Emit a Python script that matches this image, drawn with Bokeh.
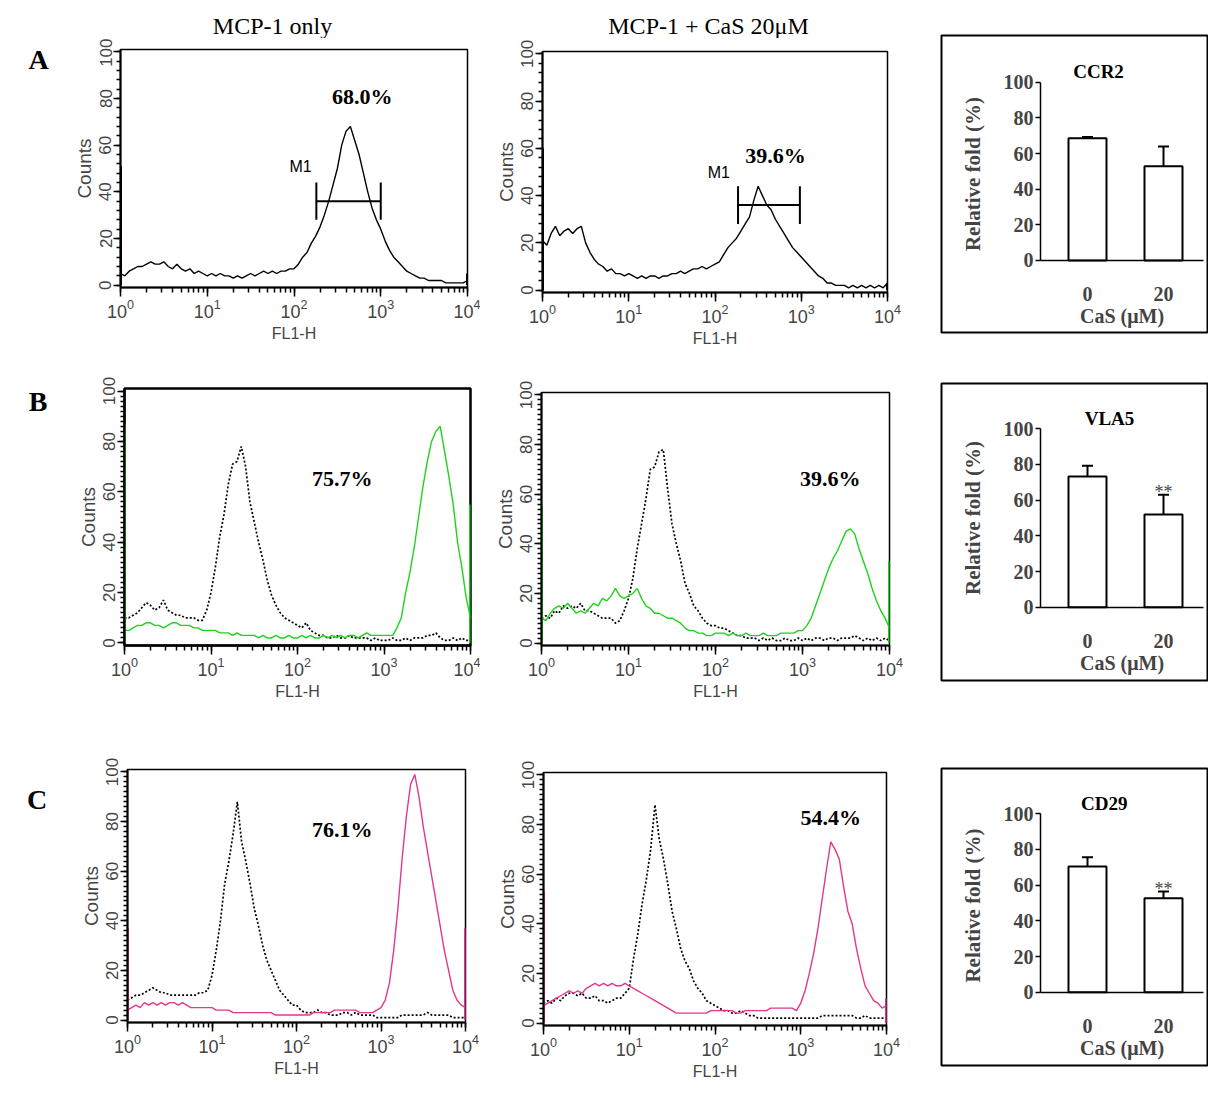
from bokeh.plotting import figure
from bokeh.layouts import row, column
from bokeh.models import (Range1d, Label, FixedTicker, SingleIntervalTicker,
                          ColumnDataSource, Whisker, TeeHead)
from bokeh.embed import file_html
from bokeh.resources import INLINE

# ---------------- data ----------------
# FL1-H channel positions (log10), shared by all histograms
log_fl1 = [round(0.05 * i, 2) for i in range(81)]
fl1 = [10 ** v for v in log_fl1]

# Panel A (CCR2) – single histograms
a1_counts = [5, 4, 6, 7, 8, 8, 9, 10, 9, 9, 10, 8, 7, 9, 7, 6, 7, 5, 6, 5,
             4, 5, 4, 5, 4, 4, 3, 4, 3, 4, 5, 4, 5, 6, 5, 6, 5, 6, 6, 7,
             7, 9, 12, 14, 18, 21, 25, 30, 36, 43, 50, 60, 66, 68, 62, 56, 48, 40, 33, 28,
             24, 19, 15, 12, 10, 8, 6, 5, 4, 3, 3, 2, 2, 2, 2, 1, 1, 1, 1, 1, 2]
a2_counts = [21, 19, 24, 27, 23, 25, 26, 24, 26, 27, 20, 16, 13, 11, 10, 8, 9, 7, 7, 6,
             7, 6, 5, 6, 5, 6, 6, 5, 6, 6, 7, 7, 8, 7, 8, 9, 9, 10, 9, 10,
             11, 12, 15, 18, 20, 22, 25, 28, 31, 38, 44, 40, 36, 34, 30, 27, 24, 21, 18, 16,
             14, 12, 10, 8, 6, 5, 3, 3, 2, 2, 2, 1, 2, 1, 2, 1, 2, 1, 2, 1, 3]

# Panel B (VLA5) – isotype (dotted) and stained (green)
b1_iso = [10, 10, 11, 12, 14, 16, 15, 13, 14, 17, 13, 12, 11, 11, 10, 10, 10, 9, 9, 13,
          20, 30, 42, 51, 63, 71, 72, 78, 70, 56, 48, 40, 33, 25, 19, 15, 12, 10, 9, 8,
          7, 6, 8, 5, 4, 3, 3, 2, 2, 3, 2, 2, 3, 2, 2, 2, 2, 1, 2, 1,
          1, 1, 2, 1, 1, 2, 1, 2, 2, 2, 3, 3, 4, 2, 1, 1, 2, 1, 2, 1, 1]
b1_vla5 = [5, 5, 6, 7, 7, 8, 8, 7, 7, 6, 7, 8, 8, 7, 7, 7, 6, 6, 5, 5,
           5, 5, 4, 4, 4, 3, 4, 3, 3, 3, 3, 2, 3, 2, 2, 3, 2, 2, 3, 2,
           2, 3, 2, 3, 2, 2, 3, 2, 3, 2, 3, 2, 3, 3, 2, 3, 4, 3, 3, 3,
           3, 3, 3, 6, 10, 20, 28, 38, 50, 62, 72, 80, 84, 86, 76, 66, 55, 40, 30, 18, 10]
b2_iso = [10, 11, 10, 13, 12, 15, 14, 15, 14, 16, 13, 13, 12, 11, 10, 10, 10, 8, 9, 13,
          18, 26, 38, 48, 58, 70, 71, 77, 78, 62, 48, 40, 33, 24, 20, 15, 13, 10, 8, 7,
          7, 6, 6, 5, 4, 3, 3, 2, 2, 2, 1, 2, 1, 2, 1, 1, 2, 1, 1, 2,
          1, 2, 1, 2, 2, 1, 2, 2, 1, 2, 2, 2, 3, 2, 1, 2, 1, 2, 1, 2, 1]
b2_vla5 = [10, 9, 12, 14, 15, 14, 16, 14, 12, 13, 12, 14, 16, 15, 18, 17, 19, 22, 19, 18,
           19, 20, 22, 18, 15, 14, 12, 12, 11, 10, 10, 9, 8, 6, 5, 5, 4, 4, 3, 3,
           4, 4, 4, 3, 4, 3, 3, 4, 3, 3, 3, 4, 3, 3, 3, 4, 4, 4, 4, 5,
           5, 7, 10, 15, 20, 25, 30, 34, 37, 41, 45, 46, 44, 38, 33, 28, 22, 17, 13, 10, 6]

# Panel C (CD29) – isotype (dotted) and stained (pink)
c1_iso = [8, 9, 10, 10, 11, 12, 13, 12, 11, 11, 10, 10, 10, 10, 10, 10, 10, 11, 11, 12,
          18, 28, 40, 55, 64, 75, 88, 72, 64, 55, 45, 38, 30, 24, 20, 16, 12, 10, 8, 6,
          6, 4, 3, 3, 3, 4, 3, 3, 2, 2, 2, 3, 3, 2, 3, 2, 2, 2, 2, 1,
          1, 1, 1, 1, 1, 2, 2, 2, 2, 2, 2, 3, 2, 2, 2, 2, 2, 1, 1, 1, 1]
c1_cd29 = [4, 5, 6, 5, 7, 6, 7, 6, 7, 6, 7, 7, 6, 7, 6, 5, 5, 5, 5, 5,
           5, 4, 4, 4, 4, 3, 3, 3, 3, 3, 3, 3, 3, 3, 3, 2, 2, 2, 2, 2,
           2, 2, 2, 2, 3, 3, 3, 3, 3, 4, 4, 4, 4, 4, 4, 3, 3, 3, 3, 4,
           5, 8, 15, 28, 45, 65, 82, 95, 99, 90, 78, 68, 58, 48, 38, 28, 20, 12, 8, 6, 5]
c2_iso = [8, 9, 8, 10, 9, 11, 12, 12, 11, 12, 10, 10, 11, 9, 9, 8, 9, 10, 10, 12,
          14, 26, 36, 48, 58, 70, 88, 74, 66, 56, 45, 38, 30, 25, 22, 17, 14, 12, 9, 8,
          7, 6, 5, 5, 4, 4, 5, 4, 3, 3, 2, 2, 2, 2, 2, 2, 2, 2, 2, 2,
          2, 2, 2, 2, 2, 3, 3, 3, 3, 3, 3, 3, 3, 2, 2, 3, 2, 2, 2, 2, 2]
c2_cd29 = [7, 8, 9, 10, 11, 12, 13, 12, 13, 12, 14, 15, 16, 15, 16, 15, 16, 15, 15, 16,
           15, 14, 13, 12, 11, 10, 9, 8, 7, 6, 5, 4, 4, 4, 4, 4, 4, 4, 4, 5,
           5, 5, 5, 5, 5, 4, 4, 5, 5, 5, 5, 5, 5, 6, 6, 6, 6, 6, 6, 5,
           8, 13, 20, 28, 38, 50, 62, 73, 70, 66, 55, 45, 40, 30, 22, 15, 12, 9, 8, 6, 7]

# first / last channel pile-up counts (left edge, right edge)
a1_edges = [51, 5]
a2_edges = [60, 3]
b1_edges = [87, 55]
b2_edges = [55, 33]
c1_edges = [37, 37]
c2_edges = [53, 10]

# M1 gates (FL1-H range) and gate height
a1_gate = [181, 1000]
a2_gate = [185, 964]
gate_level = 36

# percentages of positive cells
pct_labels = ["68.0%", "39.6%", "75.7%", "39.6%", "76.1%", "54.4%"]

column_titles = ["MCP-1 only", "MCP-1 + CaS 20\u03bcM"]
row_letters = ["A", "B", "C"]

# bar charts: relative fold (%) for CaS 0 and 20 uM
cas_doses = ["0", "20"]
ccr2_mean = [68.6, 52.9]
ccr2_err = [0.7, 11.0]
vla5_mean = [73.3, 52.0]
vla5_err = [6.0, 11.0]
cd29_mean = [70.5, 52.7]
cd29_err = [5.2, 3.7]
vla5_sig = ["", "**"]
cd29_sig = ["", "**"]

GREEN = "#1ed21e"
PINK = "#e2378e"
SANS = "Liberation Sans"
SERIF = "Liberation Serif"


def blank(w, h):
    p = figure(width=w, height=h, x_range=Range1d(0, w), y_range=Range1d(0, h),
               output_backend="svg", toolbar_location=None,
               x_axis_location=None, y_axis_location=None,
               min_border=0, min_border_left=0, min_border_right=0,
               min_border_top=0, min_border_bottom=0)
    p.xgrid.visible = False
    p.ygrid.visible = False
    p.outline_line_color = None
    return p


def make_hist(w, h, left, right, top, bottom, curves, edges, edge_color,
              outline_w=1.5, minor=10):
    p = figure(width=w, height=h, x_axis_type="log",
               x_range=Range1d(1, 1e4), y_range=Range1d(-1, 101),
               output_backend="svg", toolbar_location=None,
               min_border_left=left, min_border_right=right,
               min_border_top=top, min_border_bottom=bottom)
    p.xgrid.visible = False
    p.ygrid.visible = False
    p.outline_line_color = "black"
    p.outline_line_width = outline_w

    xa = p.xaxis[0]
    xa.axis_label = "FL1-H"
    xa.axis_label_text_font = SANS
    xa.axis_label_text_font_size = "16px"
    xa.axis_label_text_font_style = "normal"
    xa.axis_label_standoff = 4
    xa.major_label_text_font = SANS
    xa.major_label_text_font_size = "18px"
    xa.major_label_standoff = 2
    xa.axis_line_width = 2
    xa.major_tick_in = 0
    xa.major_tick_out = 9
    xa.minor_tick_in = 0
    xa.minor_tick_out = 5
    xa.major_tick_line_width = 1.5
    xa.minor_tick_line_width = 1.5

    ya = p.yaxis[0]
    ya.ticker = SingleIntervalTicker(interval=20, num_minor_ticks=minor)
    ya.axis_label = "Counts"
    ya.axis_label_text_font = SANS
    ya.axis_label_text_font_size = "19px"
    ya.axis_label_text_font_style = "normal"
    ya.axis_label_standoff = 2
    ya.major_label_text_font = SANS
    ya.major_label_text_font_size = "17px"
    ya.major_label_orientation = "vertical"
    ya.major_label_standoff = 2
    ya.axis_line_width = 2
    ya.major_tick_in = 0
    ya.major_tick_out = 7
    ya.minor_tick_in = 0
    ya.minor_tick_out = 4
    ya.major_tick_line_width = 1.5
    ya.minor_tick_line_width = 1.5

    for vals, color, dash, lw in curves:
        p.line(fl1, vals, line_color=color, line_width=lw, line_dash=dash)
    p.segment(x0=[1, 1e4], y0=[0, 0], x1=[1, 1e4], y1=edges,
              line_color=edge_color, line_width=3)
    return p


def add_label(p, x, y, text, font, size, style="normal", color="black",
              align="center", baseline="middle"):
    p.add_layout(Label(x=x, y=y, text=text, text_font=font,
                       text_font_size=size, text_font_style=style,
                       text_color=color, text_align=align,
                       text_baseline=baseline))


def add_gate(p, gate):
    p.segment(x0=[gate[0]], y0=[gate_level], x1=[gate[1]], y1=[gate_level],
              line_color="black", line_width=2)
    p.segment(x0=gate, y0=[gate_level - 8] * 2, x1=gate, y1=[gate_level + 8] * 2,
              line_color="black", line_width=2)


def make_bar(h, top, bottom, yr, means, errs, title, title_x, sig=None,
             ylabel="Relative fold  (%)"):
    p = figure(width=283, height=h, x_range=Range1d(-0.921, 2.579),
               y_range=Range1d(*yr), output_backend="svg", toolbar_location=None,
               min_border_left=16, min_border_right=1,
               min_border_top=top, min_border_bottom=bottom)
    p.xgrid.visible = False
    p.ygrid.visible = False
    p.outline_line_color = "black"
    p.outline_line_width = 2
    xs = [i + 1 for i in range(len(cas_doses))]
    src = ColumnDataSource(dict(x=xs, top=means,
                                upper=[m + e for m, e in zip(means, errs)],
                                lower=[m - e for m, e in zip(means, errs)]))
    p.vbar(x="x", top="top", bottom=0, width=0.5, source=src,
           fill_color="white", line_color="black", line_width=2)
    p.add_layout(Whisker(base="x", upper="upper", lower="lower", source=src,
                         line_color="black", line_width=2,
                         upper_head=TeeHead(size=11, line_width=2, line_color="black"),
                         lower_head=TeeHead(size=11, line_width=2, line_color="black")))

    ya = p.yaxis[0]
    ya.fixed_location = 0.382
    ya.bounds = (0, 100)
    ya.ticker = FixedTicker(ticks=[0, 20, 40, 60, 80, 100])
    ya.minor_tick_line_color = None
    ya.major_tick_in = 0
    ya.major_tick_out = 5
    ya.major_tick_line_width = 1.5
    ya.axis_line_width = 1.5
    ya.major_label_standoff = 2
    ya.major_label_text_font = SERIF
    ya.major_label_text_font_style = "bold"
    ya.major_label_text_font_size = "20px"
    ya.axis_label = ylabel
    ya.axis_label_text_font = SERIF
    ya.axis_label_text_font_style = "bold"
    ya.axis_label_text_font_size = "21px"
    ya.axis_label_standoff = 16

    xa = p.xaxis[0]
    xa.fixed_location = 0
    xa.bounds = (0.382, 2.526)
    xa.ticker = FixedTicker(ticks=xs)
    xa.major_label_overrides = {x: c for x, c in zip(xs, cas_doses)}
    xa.major_tick_line_color = None
    xa.minor_tick_line_color = None
    xa.major_tick_in = 0
    xa.major_tick_out = 0
    xa.axis_line_width = 1.5
    xa.major_label_standoff = 27
    xa.major_label_text_font = SERIF
    xa.major_label_text_font_style = "bold"
    xa.major_label_text_font_size = "20px"
    xa.axis_label = "CaS (\u03bcM)"
    xa.axis_label_text_font = SERIF
    xa.axis_label_text_font_style = "bold"
    xa.axis_label_text_font_size = "20px"
    xa.axis_label_standoff = 0

    add_label(p, title_x, 105.8, title, SERIF, "19px", style="bold")
    if sig:
        for x, m, e, s in zip(xs, means, errs, sig):
            if s:
                add_label(p, x, m + e + 1.5, s, SERIF, "18px", color="#444444")
    return p


def box(p):
    # wrap each plot so that a row does not align the plot frames
    return column(p)


# ---------------- header + row A ----------------
header = blank(925, 38)
add_label(header, 272, 13, column_titles[0], SERIF, "24px")
add_label(header, 708, 13, column_titles[1], SERIF, "24px")

letA = blank(60, 322)
add_label(letA, 38, 301, row_letters[0], SERIF, "28px", style="bold")

a1 = make_hist(420, 322, 60, 13, 11, 73, [(a1_counts, "black", "solid", 1.4)],
               a1_edges, "black", minor=5)
add_gate(a1, a1_gate)
add_label(a1, 10 ** 2.075, 50.7, "M1", SANS, "16px")
add_label(a1, 10 ** 2.786, 80.7, pct_labels[0], SERIF, "22px", style="bold")

a2 = make_hist(445, 322, 62, 38, 13, 68, [(a2_counts, "black", "solid", 1.4)],
               a2_edges, "black", minor=5)
add_gate(a2, a2_gate)
add_label(a2, 10 ** 2.044, 49.8, "M1", SANS, "16px")
add_label(a2, 10 ** 2.70, 56.9, pct_labels[1], SERIF, "22px", style="bold")

a3 = make_bar(360, 35, 28, (-40.4, 126.2), ccr2_mean, ccr2_err, "CCR2", 1.145)

# ---------------- row B ----------------
letB = blank(60, 370)
add_label(letB, 37.5, 329, row_letters[1], SERIF, "28px", style="bold")

b1 = make_hist(420, 370, 64, 10, 28, 85,
               [(b1_iso, "black", "2 2", 1.7), (b1_vla5, GREEN, "solid", 1.4)],
               b1_edges, GREEN, outline_w=2.5)
add_label(b1, 10 ** 2.517, 65.2, pct_labels[2], SERIF, "22px", style="bold")

b2 = make_hist(445, 370, 61, 36, 32, 85,
               [(b2_iso, "black", "2 2", 1.7), (b2_vla5, GREEN, "solid", 1.4)],
               b2_edges, GREEN)
add_label(b2, 10 ** 3.32, 66.4, pct_labels[3], SERIF, "22px", style="bold")

b3 = make_bar(370, 23, 50, (-41.1, 125.4), vla5_mean, vla5_err, "VLA5", 1.29,
              sig=vla5_sig, ylabel="Relative fold (%)")

# ---------------- row C ----------------
letC = blank(60, 359)
add_label(letC, 36.7, 290, row_letters[2], SERIF, "28px", style="bold")

c1 = make_hist(420, 359, 67, 15, 39, 67,
               [(c1_iso, "black", "2 2", 1.7), (c1_cd29, PINK, "solid", 1.4)],
               c1_edges, PINK)
add_label(c1, 10 ** 2.54, 76.7, pct_labels[4], SERIF, "22px", style="bold")

c2 = make_hist(445, 359, 63, 39, 42, 64,
               [(c2_iso, "black", "2 2", 1.7), (c2_cd29, PINK, "solid", 1.4)],
               c2_edges, PINK)
add_label(c2, 10 ** 3.35, 83.0, pct_labels[5], SERIF, "22px", style="bold")

c3 = make_bar(359, 38, 24, (-41.1, 125.4), cd29_mean, cd29_err, "CD29", 1.22,
              sig=cd29_sig)

top_block = row(column(box(header), row(box(letA), box(a1), box(a2))), box(a3))
layout = column(top_block,
                row(box(letB), box(b1), box(b2), box(b3)),
                row(box(letC), box(c1), box(c2), box(c3)))

open("out.html", "w").write(file_html(layout, INLINE))
